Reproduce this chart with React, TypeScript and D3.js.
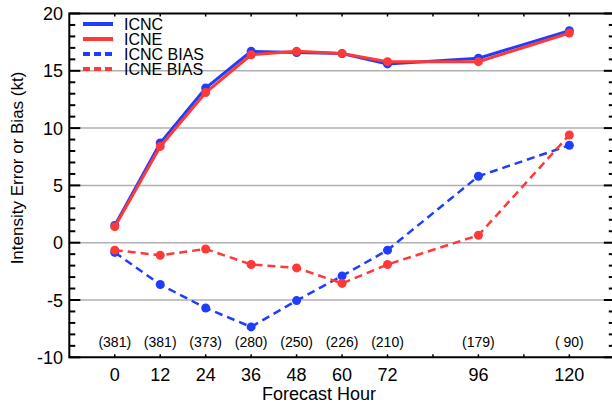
import React, { useEffect, useRef } from 'react';
import * as d3 from 'd3';

const hours = [0, 12, 24, 36, 48, 60, 72, 96, 120];
const icnc = [1.5, 8.7, 13.5, 16.7, 16.6, 16.5, 15.6, 16.1, 18.5];
const icne = [1.4, 8.4, 13.1, 16.4, 16.7, 16.5, 15.8, 15.8, 18.3];
const icncBias = [-0.85, -3.65, -5.7, -7.35, -5.05, -2.9, -0.65, 5.8, 8.5];
const icneBias = [-0.65, -1.1, -0.55, -1.9, -2.2, -3.55, -1.9, 0.65, 9.4];
const counts = ['(381)', '(381)', '(373)', '(280)', '(250)', '(226)', '(210)', '(179)', '( 90)'];
const xTicks = [0, 12, 24, 36, 48, 60, 72, 96, 120];
const yTicks = [-10, -5, 0, 5, 10, 15, 20];

const BLUE = '#1f3dff';
const RED = '#ff3838';

const series = [
  { name: 'ICNC', values: icnc, color: BLUE, dash: null },
  { name: 'ICNE', values: icne, color: RED, dash: null },
  { name: 'ICNC BIAS', values: icncBias, color: BLUE, dash: '8,5' },
  { name: 'ICNE BIAS', values: icneBias, color: RED, dash: '8,5' }
];

export default function App() {
  const ref = useRef<SVGSVGElement>(null);

  useEffect(() => {
    const svg = d3.select(ref.current);
    svg.selectAll('*').remove();
    const font = 'Liberation Sans, Arial, sans-serif';

    const x = d3.scaleLinear().domain([-12, 132]).range([69.3, 614.8]);
    const y = d3.scaleLinear().domain([-10, 20]).range([357.3, 13.5]);
    const [x0, x1] = x.range();
    const [y0, y1] = y.range();

    // gridlines
    svg
      .append('g')
      .selectAll('line')
      .data(yTicks.filter(v => v > -10 && v < 20))
      .join('line')
      .attr('x1', x0)
      .attr('x2', x1)
      .attr('y1', d => y(d))
      .attr('y2', d => y(d))
      .attr('stroke', '#b0b0b0')
      .attr('stroke-width', 1.5);

    // minor/major y ticks on both sides
    const yMinor = d3.range(-10, 21, 1);
    const tickG = svg.append('g').attr('stroke', '#000').attr('stroke-width', 2);
    tickG
      .selectAll('line.l')
      .data(yMinor)
      .join('line')
      .attr('class', 'l')
      .attr('x1', x0)
      .attr('x2', d => x0 + (d % 5 === 0 ? 11 : 6))
      .attr('y1', d => y(d))
      .attr('y2', d => y(d));
    tickG
      .selectAll('line.r')
      .data(yMinor)
      .join('line')
      .attr('class', 'r')
      .attr('x1', x1)
      .attr('x2', d => x1 - (d % 5 === 0 ? 11 : 6))
      .attr('y1', d => y(d))
      .attr('y2', d => y(d));

    // x ticks every 12h, top and bottom
    const xMinor = d3.range(0, 121, 12);
    tickG
      .selectAll('line.b')
      .data(xMinor)
      .join('line')
      .attr('class', 'b')
      .attr('x1', d => x(d))
      .attr('x2', d => x(d))
      .attr('y1', y0)
      .attr('y2', y0 - 3)
      .attr('stroke-width', 1.5);
    tickG
      .selectAll('line.t')
      .data(xMinor)
      .join('line')
      .attr('class', 't')
      .attr('x1', d => x(d))
      .attr('x2', d => x(d))
      .attr('y1', y1)
      .attr('y2', y1 + 3)
      .attr('stroke-width', 1.5);

    // frame
    svg
      .append('path')
      .attr('d', `M${x1},${y1}H${x0}V${y0}H${x1}Z`)
      .attr('fill', 'none')
      .attr('stroke', '#000')
      .attr('stroke-width', 2);

    // lines
    const line = d3
      .line<number>()
      .x((_, i) => x(hours[i]))
      .y(d => y(d));

    series.forEach(s => {
      const g = svg.append('g');
      g.append('path')
        .attr('d', line(s.values))
        .attr('fill', 'none')
        .attr('stroke', s.color)
        .attr('stroke-width', s.dash ? 2.5 : 3)
        .attr('stroke-dasharray', s.dash);
      g.selectAll('circle')
        .data(s.values)
        .join('circle')
        .attr('cx', (_, i) => x(hours[i]))
        .attr('cy', d => y(d))
        .attr('r', 4.5)
        .attr('fill', s.color);
    });

    // counts
    svg
      .append('g')
      .selectAll('text')
      .data(counts)
      .join('text')
      .attr('x', (_, i) => x(hours[i]))
      .attr('y', 346.5)
      .attr('text-anchor', 'middle')
      .attr('font-family', font)
      .attr('font-size', 14)
      .text(d => d);

    // tick labels
    svg
      .append('g')
      .selectAll('text')
      .data(yTicks)
      .join('text')
      .attr('x', 63)
      .attr('y', d => y(d) + 6.5)
      .attr('text-anchor', 'end')
      .attr('font-family', font)
      .attr('font-size', 18)
      .text(d => d);
    svg
      .append('g')
      .selectAll('text')
      .data(xTicks)
      .join('text')
      .attr('x', d => x(d))
      .attr('y', 380.5)
      .attr('text-anchor', 'middle')
      .attr('font-family', font)
      .attr('font-size', 18)
      .text(d => d);

    svg
      .append('text')
      .attr('x', 319)
      .attr('y', 399.5)
      .attr('text-anchor', 'middle')
      .attr('font-family', font)
      .attr('font-size', 18)
      .text('Forecast Hour');

    svg
      .append('text')
      .attr('transform', 'translate(23,168) rotate(-90)')
      .attr('text-anchor', 'middle')
      .attr('font-family', font)
      .attr('font-size', 17)
      .text('Intensity Error or Bias (kt)');

    // legend
    const leg = svg
      .append('g')
      .selectAll('g')
      .data(series)
      .join('g')
      .attr('transform', (_, i) => `translate(83,${24 + i * 15})`);
    leg
      .append('line')
      .attr('x1', 0)
      .attr('x2', 30)
      .attr('stroke', d => d.color)
      .attr('stroke-width', 4)
      .attr('stroke-dasharray', d => (d.dash ? '7,4' : null));
    leg
      .append('text')
      .attr('x', 41)
      .attr('y', 6)
      .attr('font-family', font)
      .attr('font-size', 16)
      .text(d => d.name);
  }, []);

  return (
    <svg
      ref={ref}
      width={612}
      height={404}
      style={{ position: 'absolute', left: 0, top: 0, background: '#fff' }}
    />
  );
}
